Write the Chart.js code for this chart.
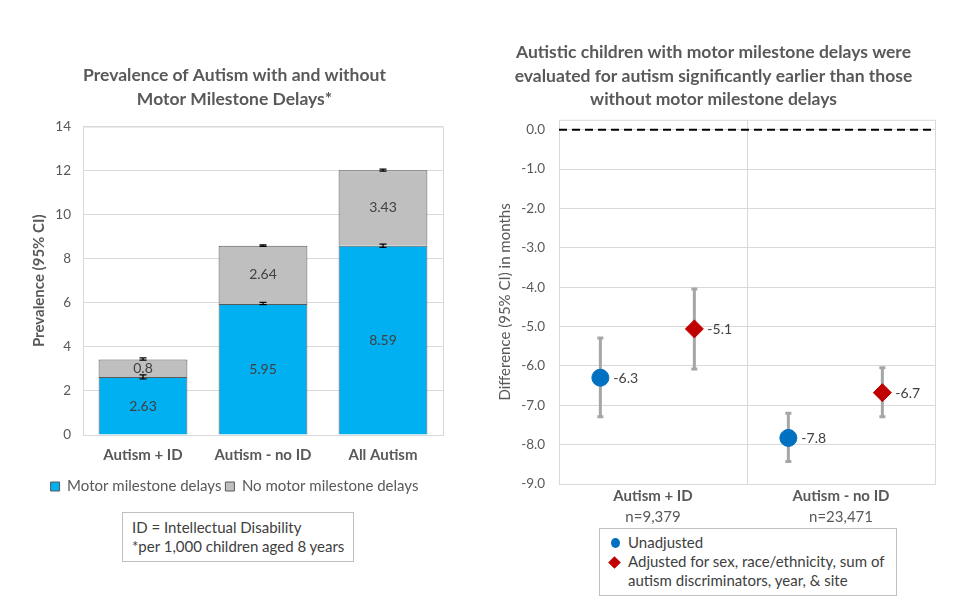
<!DOCTYPE html>
<html>
<head>
<meta charset="utf-8">
<script src="https://cdn.jsdelivr.net/npm/chart.js@4.4.1/dist/chart.umd.min.js"></script>
<style>
  body { margin: 0; background: #fff; font-family: Lato, sans-serif; color: #404040; }
  #page { position: relative; width: 960px; height: 614px; overflow: hidden; }
  .box { position: absolute; border: 1px solid #bfbfbf; font-size: 15px; line-height: 19px; color: #404040; box-sizing: border-box; }
  .mk { position: absolute; }
</style>
</head>
<body>
<div id="page">
  <div style="position:absolute;left:0;top:0;width:480px;height:510px;"><canvas id="prevChart"></canvas></div>
  <div style="position:absolute;left:480px;top:0;width:480px;height:526px;"><canvas id="diffChart"></canvas></div>

  <div class="box" style="left:122px;top:512px;width:232px;height:50px;padding:5px 0 0 9px;">
    ID = Intellectual Disability<br>*per 1,000 children aged 8 years
  </div>

  <div class="box" style="left:599px;top:528px;width:298px;height:68px;padding:4px 0 0 28px;">
    <span class="mk" style="left:11px;top:9px;width:9px;height:10px;border-radius:50%;background:#0070C0;"></span>
    <span class="mk" style="left:10px;top:29px;width:9px;height:9px;background:#C00000;transform:rotate(45deg);"></span>
    Unadjusted<br>Adjusted for sex, race/ethnicity, sum of<br>autism discriminators, year, &amp; site
  </div>
</div>

<script>
// left chart: prevalence per 1,000
const barCats = ['Autism + ID', 'Autism - no ID', 'All Autism'];
const motorDelay = [2.63, 5.95, 8.59];
const noMotorDelay = [0.8, 2.64, 3.43];
const motorLo = [2.55, 5.92, 8.52];
const motorHi = [2.73, 6.02, 8.66];
const totalLo = [3.40, 8.56, 11.98];
const totalHi = [3.50, 8.63, 12.07];

// right chart: difference in months
const groups = ['Autism + ID', 'Autism - no ID'];
const groupN = ['n=9,379', 'n=23,471'];
const unadj = [-6.3, -7.83];
const unadjLo = [-7.29, -8.43];
const unadjHi = [-5.29, -7.2];
const adj = [-5.06, -6.68];
const adjLo = [-6.08, -7.29];
const adjHi = [-4.05, -6.05];
const diffTicks = [0, -1, -2, -3, -4, -5, -6, -7, -8, -9];

const FONT = 'Lato, sans-serif';
const GREY = '#595959';

const plotBox = {
  id: 'plotBox',
  beforeDatasetsDraw(chart) {
    const a = chart.chartArea, ctx = chart.ctx;
    ctx.save();
    ctx.strokeStyle = '#d9d9d9';
    ctx.lineWidth = 1;
    ctx.strokeRect(a.left + 0.5, a.top + 0.5, a.right - a.left, a.bottom - a.top);
    ctx.restore();
  }
};

function vBar(ctx, x, y1, y2, cap) {
  ctx.beginPath();
  ctx.moveTo(x, y1); ctx.lineTo(x, y2);
  ctx.moveTo(x - cap, y1); ctx.lineTo(x + cap, y1);
  ctx.moveTo(x - cap, y2); ctx.lineTo(x + cap, y2);
  ctx.stroke();
}

const barExtras = {
  id: 'barExtras',
  afterDatasetsDraw(chart) {
    const ctx = chart.ctx, y = chart.scales.y;
    const m0 = chart.getDatasetMeta(0).data, m1 = chart.getDatasetMeta(1).data;
    ctx.save();
    ctx.font = '14px ' + FONT;
    ctx.fillStyle = '#404040';
    ctx.textAlign = 'center';
    ctx.textBaseline = 'middle';
    barCats.forEach((c, i) => {
      const x = m0[i].x;
      ctx.fillText(String(motorDelay[i]), x, y.getPixelForValue(motorDelay[i] / 2));
      ctx.fillText(String(noMotorDelay[i]), x, y.getPixelForValue(motorDelay[i] + noMotorDelay[i] / 2));
    });
    ctx.strokeStyle = '#000';
    ctx.lineWidth = 1.3;
    barCats.forEach((c, i) => {
      vBar(ctx, m0[i].x, y.getPixelForValue(motorLo[i]), y.getPixelForValue(motorHi[i]), 3.5);
      vBar(ctx, m1[i].x, y.getPixelForValue(totalLo[i]), y.getPixelForValue(totalHi[i]), 3.5);
    });
    ctx.restore();
  }
};

new Chart(document.getElementById('prevChart'), {
  type: 'bar',
  data: {
    labels: barCats,
    datasets: [
      { label: 'Motor milestone delays', data: motorDelay, backgroundColor: '#00B0F0', borderColor: GREY, borderWidth: 1 },
      { label: 'No motor milestone delays', data: noMotorDelay, backgroundColor: '#BFBFBF', borderColor: GREY, borderWidth: 1 }
    ]
  },
  options: {
    responsive: true,
    maintainAspectRatio: false,
    animation: false,
    layout: { padding: { left: 26, right: 37, top: 0, bottom: 6 } },
    datasets: { bar: { barPercentage: 0.74, categoryPercentage: 1 } },
    plugins: {
      title: {
        display: true,
        text: ['Prevalence of Autism with and without', 'Motor Milestone Delays*'],
        color: GREY,
        font: { family: FONT, size: 17.5, weight: 'bold', lineHeight: 1.33 },
        padding: { top: 64, bottom: 16 }
      },
      legend: {
        position: 'bottom',
        labels: { color: GREY, boxWidth: 9, boxHeight: 9, padding: 4, font: { family: FONT, size: 15 } }
      },
      tooltip: { enabled: false }
    },
    scales: {
      x: {
        stacked: true,
        grid: { display: false, drawTicks: false },
        border: { display: false },
        ticks: { color: GREY, padding: 11, font: { family: FONT, size: 15, weight: 'bold' } }
      },
      y: {
        stacked: true,
        min: 0, max: 14,
        afterFit(s) { s.width = 57; },
        grid: { color: '#d9d9d9', drawTicks: false },
        border: { display: false },
        ticks: { stepSize: 2, color: GREY, padding: 12, font: { family: FONT, size: 13.5 } },
        title: { display: true, text: 'Prevalence (95% CI)', color: GREY, font: { family: FONT, size: 15, weight: 'bold' } }
      }
    }
  },
  plugins: [plotBox, barExtras]
});

const pointExtras = {
  id: 'pointExtras',
  beforeDatasetsDraw(chart) {
    const ctx = chart.ctx, y = chart.scales.y;
    ctx.save();
    ctx.strokeStyle = '#A6A6A6';
    ctx.lineWidth = 3;
    [[1, unadjLo, unadjHi], [2, adjLo, adjHi]].forEach(([di, lo, hi]) => {
      chart.getDatasetMeta(di).data.forEach((p, i) => {
        vBar(ctx, p.x, y.getPixelForValue(lo[i]), y.getPixelForValue(hi[i]), 3);
      });
    });
    ctx.restore();
  },
  afterDatasetsDraw(chart) {
    const ctx = chart.ctx;
    ctx.save();
    ctx.font = '14px ' + FONT;
    ctx.fillStyle = '#404040';
    ctx.textBaseline = 'middle';
    [[1, unadj], [2, adj]].forEach(([di, vals]) => {
      chart.getDatasetMeta(di).data.forEach((p, i) => {
        ctx.fillText(vals[i].toFixed(1), p.x + 13, p.y + 1);
      });
    });
    ctx.restore();
  }
};

new Chart(document.getElementById('diffChart'), {
  type: 'scatter',
  data: {
    datasets: [
      { type: 'line', data: [{ x: 0.5, y: 0 }, { x: 2.5, y: 0 }], borderColor: '#000', borderWidth: 2, borderDash: [8, 5], pointRadius: 0 },
      { label: 'Unadjusted', data: unadj.map((v, i) => ({ x: i + 0.72, y: v })), pointStyle: 'circle', pointRadius: 8.5, backgroundColor: '#0070C0', borderColor: '#0070C0' },
      { label: 'Adjusted', data: adj.map((v, i) => ({ x: i + 1.22, y: v })), pointStyle: 'rectRot', pointRadius: 9, backgroundColor: '#C00000', borderColor: '#C00000' }
    ]
  },
  options: {
    responsive: true,
    maintainAspectRatio: false,
    animation: false,
    layout: { padding: { left: 12, right: 25, top: 0, bottom: 0 } },
    plugins: {
      title: {
        display: true,
        text: ['Autistic children with motor milestone delays were', 'evaluated for autism significantly earlier than those', 'without motor milestone delays'],
        color: GREY,
        font: { family: FONT, size: 17.5, weight: 'bold', lineHeight: 1.33 },
        padding: { top: 41, bottom: 9 }
      },
      legend: { display: false },
      tooltip: { enabled: false }
    },
    scales: {
      x: {
        type: 'linear', position: 'bottom', min: 0.5, max: 2.5,
        afterBuildTicks(s) { s.ticks = [1, 1.5, 2].map(v => ({ value: v })); },
        grid: { color: c => (c.tick && c.tick.value === 1.5 ? '#d9d9d9' : 'rgba(0,0,0,0)'), drawTicks: false },
        border: { display: false },
        ticks: {
          padding: 3, color: GREY, font: { family: FONT, size: 15, weight: 'bold' },
          callback: v => (v === 1 ? groups[0] : v === 2 ? groups[1] : '')
        }
      },
      xn: {
        type: 'linear', position: 'bottom', min: 0.5, max: 2.5,
        afterBuildTicks(s) { s.ticks = [1, 2].map(v => ({ value: v })); },
        grid: { display: false, drawTicks: false },
        border: { display: false },
        ticks: { padding: 0, color: GREY, font: { family: FONT, size: 15 }, callback: v => groupN[v - 1] }
      },
      y: {
        min: -9, max: 0.25,
        afterFit(s) { s.width = 67; },
        afterBuildTicks(s) { s.ticks = diffTicks.map(v => ({ value: v })); },
        grid: { color: '#d9d9d9', drawTicks: false },
        border: { display: false },
        ticks: { color: GREY, padding: 14, font: { family: FONT, size: 13.5 }, callback: v => v.toFixed(1) },
        title: { display: true, text: 'Difference (95% CI) in months', color: GREY, font: { family: FONT, size: 15 } }
      }
    }
  },
  plugins: [plotBox, pointExtras]
});
</script>
</body>
</html>
